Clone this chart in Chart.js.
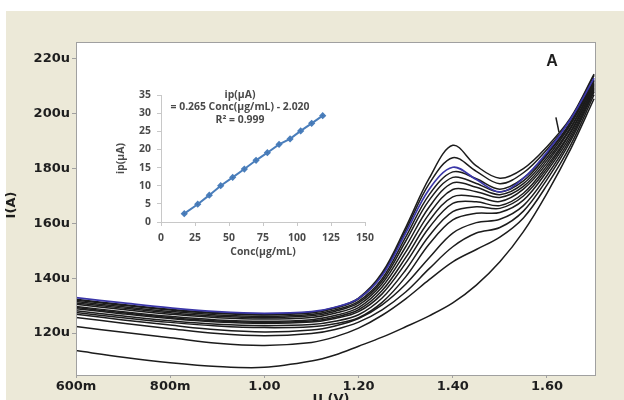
<!DOCTYPE html>
<html>
<head>
<meta charset="utf-8">
<script src="https://cdn.jsdelivr.net/npm/chart.js@4.4.1/dist/chart.umd.min.js"></script>
<style>
  html, body { margin: 0; padding: 0; background: #fff; }
  #wrap { position: relative; width: 624px; height: 400px; overflow: hidden; }
  #main { position: absolute; left: 0; top: 0; }
  #inset { position: absolute; left: 100px; top: 75px; }
</style>
</head>
<body>
<div id="wrap">
  <canvas id="main" width="624" height="400"></canvas>
  <canvas id="inset" width="290" height="190"></canvas>
</div>
<script>
// potential (V) where each voltammogram was read
const voltage = [0.60, 0.70, 0.80, 0.90, 1.00, 1.10, 1.15, 1.20, 1.25, 1.30, 1.35, 1.40, 1.45, 1.50, 1.55, 1.60, 1.65, 1.70];

// current (uA), blank first, highest concentration last
const c0  = [113.6, 111.2, 109.2, 107.8, 107.5, 109.8, 112.0, 115.2, 118.5, 122.3, 126.3, 131.0, 137.5, 146.0, 157.0, 171.0, 187.0, 205.5];
const c1  = [122.4, 120.3, 118.3, 116.3, 115.5, 116.6, 118.6, 121.8, 126.5, 132.5, 139.5, 146.0, 150.5, 155.0, 162.0, 174.0, 188.5, 207.0];
const c2  = [125.7, 123.6, 121.6, 119.8, 119.0, 119.8, 121.3, 124.0, 128.5, 135.0, 143.5, 151.5, 156.5, 158.5, 164.5, 176.0, 190.0, 208.0];
const c3  = [126.9, 124.8, 122.9, 121.2, 120.4, 121.1, 122.6, 125.3, 130.3, 137.8, 147.5, 156.5, 160.3, 161.5, 166.5, 177.5, 191.0, 208.5];
const c4  = [127.5, 125.6, 123.9, 122.6, 122.0, 122.3, 123.4, 125.6, 131.2, 140.5, 152.5, 161.3, 163.7, 164.0, 168.5, 179.0, 192.0, 209.0];
const c5  = [128.1, 126.2, 124.5, 123.2, 122.7, 123.1, 124.3, 126.7, 132.8, 143.0, 155.5, 164.3, 166.1, 165.5, 170.0, 180.0, 193.0, 209.5];
const c6  = [128.9, 127.0, 125.3, 124.0, 123.5, 124.0, 125.3, 127.8, 134.3, 145.5, 158.5, 167.3, 167.9, 166.5, 171.0, 181.0, 193.5, 210.0];
const c7  = [129.3, 127.4, 125.7, 124.4, 123.9, 124.4, 125.8, 128.5, 135.5, 147.5, 161.0, 169.7, 169.7, 168.0, 172.5, 182.0, 194.5, 210.5];
const c8  = [129.7, 127.8, 126.1, 124.8, 124.3, 124.9, 126.4, 129.3, 136.8, 149.5, 163.5, 172.4, 171.6, 169.5, 173.5, 183.0, 195.0, 211.0];
const c9  = [130.5, 128.6, 126.9, 125.6, 125.1, 125.7, 127.2, 130.2, 138.0, 151.5, 166.0, 174.8, 173.2, 170.5, 174.5, 184.0, 196.0, 211.5];
const c10 = [131.0, 129.1, 127.4, 126.1, 125.6, 126.3, 127.9, 131.0, 139.0, 153.5, 168.5, 176.8, 174.6, 171.5, 175.5, 185.0, 196.5, 212.0];
const c11 = [131.5, 129.6, 127.9, 126.6, 126.1, 126.8, 128.4, 131.6, 139.8, 155.0, 170.5, 178.8, 176.3, 172.5, 176.5, 185.5, 197.0, 212.5];
const cBlue = [132.9, 131.0, 129.2, 127.8, 127.2, 127.8, 129.4, 132.6, 141.0, 156.5, 172.5, 180.5, 176.0, 171.5, 176.5, 186.0, 198.0, 213.0];
const c13 = [132.0, 130.1, 128.4, 127.1, 126.6, 127.3, 129.0, 132.4, 141.3, 157.5, 174.5, 184.0, 179.0, 174.5, 178.5, 187.0, 198.0, 214.0];
const c14 = [132.3, 130.4, 128.7, 127.4, 126.9, 127.6, 129.3, 132.8, 142.0, 158.5, 176.5, 188.5, 181.0, 176.5, 180.0, 188.0, 198.5, 214.5];

const blackCurves = [c14, c13, c11, c10, c9, c8, c7, c6, c5, c4, c3, c2, c1, c0];

// short stroke drawn across the bundle near the upper right
const markerV = [1.619, 1.6255];
const markerI = [198.7, 193.3];

const xTicks = [0.6, 0.8, 1.0, 1.2, 1.4, 1.6];
const xTickLabels = ['600m', '800m', '1.00', '1.20', '1.40', '1.60'];
const yTicks = [120, 140, 160, 180, 200, 220];
const yTickLabels = ['120u', '140u', '160u', '180u', '200u', '220u'];

// calibration inset
const conc = [17.1, 27.0, 35.5, 43.9, 52.7, 61.3, 69.9, 78.2, 86.8, 94.9, 102.7, 110.8, 118.9];
const ip = [2.3, 4.9, 7.4, 10.0, 12.3, 14.6, 17.0, 19.1, 21.4, 22.9, 25.1, 27.2, 29.3];
const concTicks = [0, 25, 50, 75, 100, 125, 150];
const equationLines = ['ip(\u00b5A)', '= 0.265 Conc(\u00b5g/mL) - 2.020', 'R\u00b2 = 0.999'];

function toPoints(ys) {
  return ys.map((y, i) => ({ x: voltage[i], y: y }));
}

const axisFont = { family: 'DejaVu Sans', size: 13, weight: 'bold' };

const datasets = [{
  data: toPoints(cBlue),
  borderColor: '#3a36a8',
  borderWidth: 1.7,
  pointRadius: 0,
  tension: 0.35
}];
blackCurves.forEach(function (c) {
  datasets.push({
    data: toPoints(c),
    borderColor: '#1c1c1c',
    borderWidth: 1.5,
    pointRadius: 0,
    tension: 0.35
  });
});
datasets.push({
  data: markerV.map((v, i) => ({ x: v, y: markerI[i] })),
  borderColor: '#1c1c1c',
  borderWidth: 1.5,
  pointRadius: 0
});

const framePlugin = {
  id: 'frame',
  beforeDraw(chart) {
    const ctx = chart.ctx;
    const a = chart.chartArea;
    ctx.save();
    ctx.fillStyle = '#fff';
    ctx.fillRect(0, 0, chart.width, chart.height);
    ctx.fillStyle = '#ece9d8';
    ctx.fillRect(6, 11, chart.width - 6, chart.height - 11);
    ctx.fillStyle = '#fff';
    ctx.fillRect(a.left, a.top, a.right - a.left, a.bottom - a.top);
    ctx.restore();
  },
  afterDraw(chart) {
    const ctx = chart.ctx;
    const a = chart.chartArea;
    ctx.save();
    ctx.strokeStyle = '#a0a0a0';
    ctx.lineWidth = 1;
    ctx.strokeRect(a.left + 0.5, a.top + 0.5, a.right - a.left, a.bottom - a.top);
    ctx.fillStyle = '#1e1e1e';
    ctx.textAlign = 'center';
    ctx.textBaseline = 'middle';
    ctx.font = 'bold 16px "Liberation Sans"';
    ctx.fillText('A', 552, 62);
    ctx.font = 'bold 13px "DejaVu Sans"';
    ctx.fillText('U (V)', 331, 400);
    ctx.translate(12, 205);
    ctx.rotate(-Math.PI / 2);
    ctx.fillText('I(A)', 0, 0);
    ctx.restore();
  }
};

new Chart(document.getElementById('main').getContext('2d'), {
  type: 'line',
  data: { datasets: datasets },
  options: {
    responsive: false,
    animation: false,
    layout: { padding: { left: 0, top: 42, right: 29, bottom: 0 } },
    plugins: { legend: { display: false }, tooltip: { enabled: false } },
    scales: {
      x: {
        type: 'linear',
        min: 0.6,
        max: 1.702,
        afterBuildTicks: s => { s.ticks = xTicks.map(v => ({ value: v })); },
        afterFit: s => { s.height = 25; },
        ticks: {
          callback: (v, i) => xTickLabels[i],
          font: axisFont,
          color: '#1e1e1e',
          padding: 1,
          maxRotation: 0,
          autoSkip: false
        },
        grid: { drawOnChartArea: false, tickLength: 3, color: '#a0a0a0' },
        border: { color: '#a0a0a0' }
      },
      y: {
        min: 104.7,
        max: 226.2,
        afterBuildTicks: s => { s.ticks = yTicks.map(v => ({ value: v })); },
        afterFit: s => { s.width = 76; },
        ticks: {
          callback: (v, i) => yTickLabels[i],
          font: axisFont,
          color: '#1e1e1e',
          padding: 2
        },
        grid: { drawOnChartArea: false, tickLength: 4, color: '#a0a0a0' },
        border: { color: '#a0a0a0' }
      }
    }
  },
  plugins: [framePlugin]
});

const insetFont = { family: 'Open Sans', size: 10.4, weight: 'bold' };

const equationPlugin = {
  id: 'equation',
  afterDraw(chart) {
    const ctx = chart.ctx;
    ctx.save();
    ctx.fillStyle = '#4a4a4a';
    ctx.font = 'bold 10.4px "Open Sans"';
    ctx.textAlign = 'center';
    ctx.textBaseline = 'middle';
    equationLines.forEach((t, i) => ctx.fillText(t, 140, 20 + i * 12.5));
    ctx.restore();
  }
};

new Chart(document.getElementById('inset').getContext('2d'), {
  type: 'line',
  data: {
    datasets: [{
      data: conc.map((c, i) => ({ x: c, y: ip[i] })),
      borderColor: '#4a7ebb',
      backgroundColor: '#3d6fae',
      borderWidth: 2,
      pointStyle: 'rectRot',
      pointRadius: 2.2,
      tension: 0
    }]
  },
  options: {
    responsive: false,
    animation: false,
    layout: { padding: { left: 0, top: 20, right: 25, bottom: 0 } },
    plugins: { legend: { display: false }, tooltip: { enabled: false } },
    scales: {
      x: {
        type: 'linear',
        min: 0,
        max: 150,
        afterBuildTicks: s => { s.ticks = concTicks.map(v => ({ value: v })); },
        afterFit: s => { s.height = 43; },
        ticks: { font: insetFont, color: '#4a4a4a', padding: 6, maxRotation: 0, autoSkip: false },
        grid: { drawOnChartArea: false, tickLength: 4, color: '#c8c8c8' },
        border: { color: '#c8c8c8' },
        title: { display: true, text: 'Conc(\u00b5g/mL)', font: insetFont, color: '#4a4a4a', padding: { top: 0, bottom: 7 } }
      },
      y: {
        min: 0,
        max: 35,
        ticks: { stepSize: 5, font: insetFont, color: '#4a4a4a', padding: 6 },
        afterFit: s => { s.width = 61; },
        grid: { drawOnChartArea: false, tickLength: 4, color: '#c8c8c8' },
        border: { color: '#c8c8c8' },
        title: { display: true, text: 'ip(\u00b5A)', font: insetFont, color: '#4a4a4a', padding: { top: 15, bottom: 0 } }
      }
    }
  },
  plugins: [equationPlugin]
});
</script>
</body>
</html>
